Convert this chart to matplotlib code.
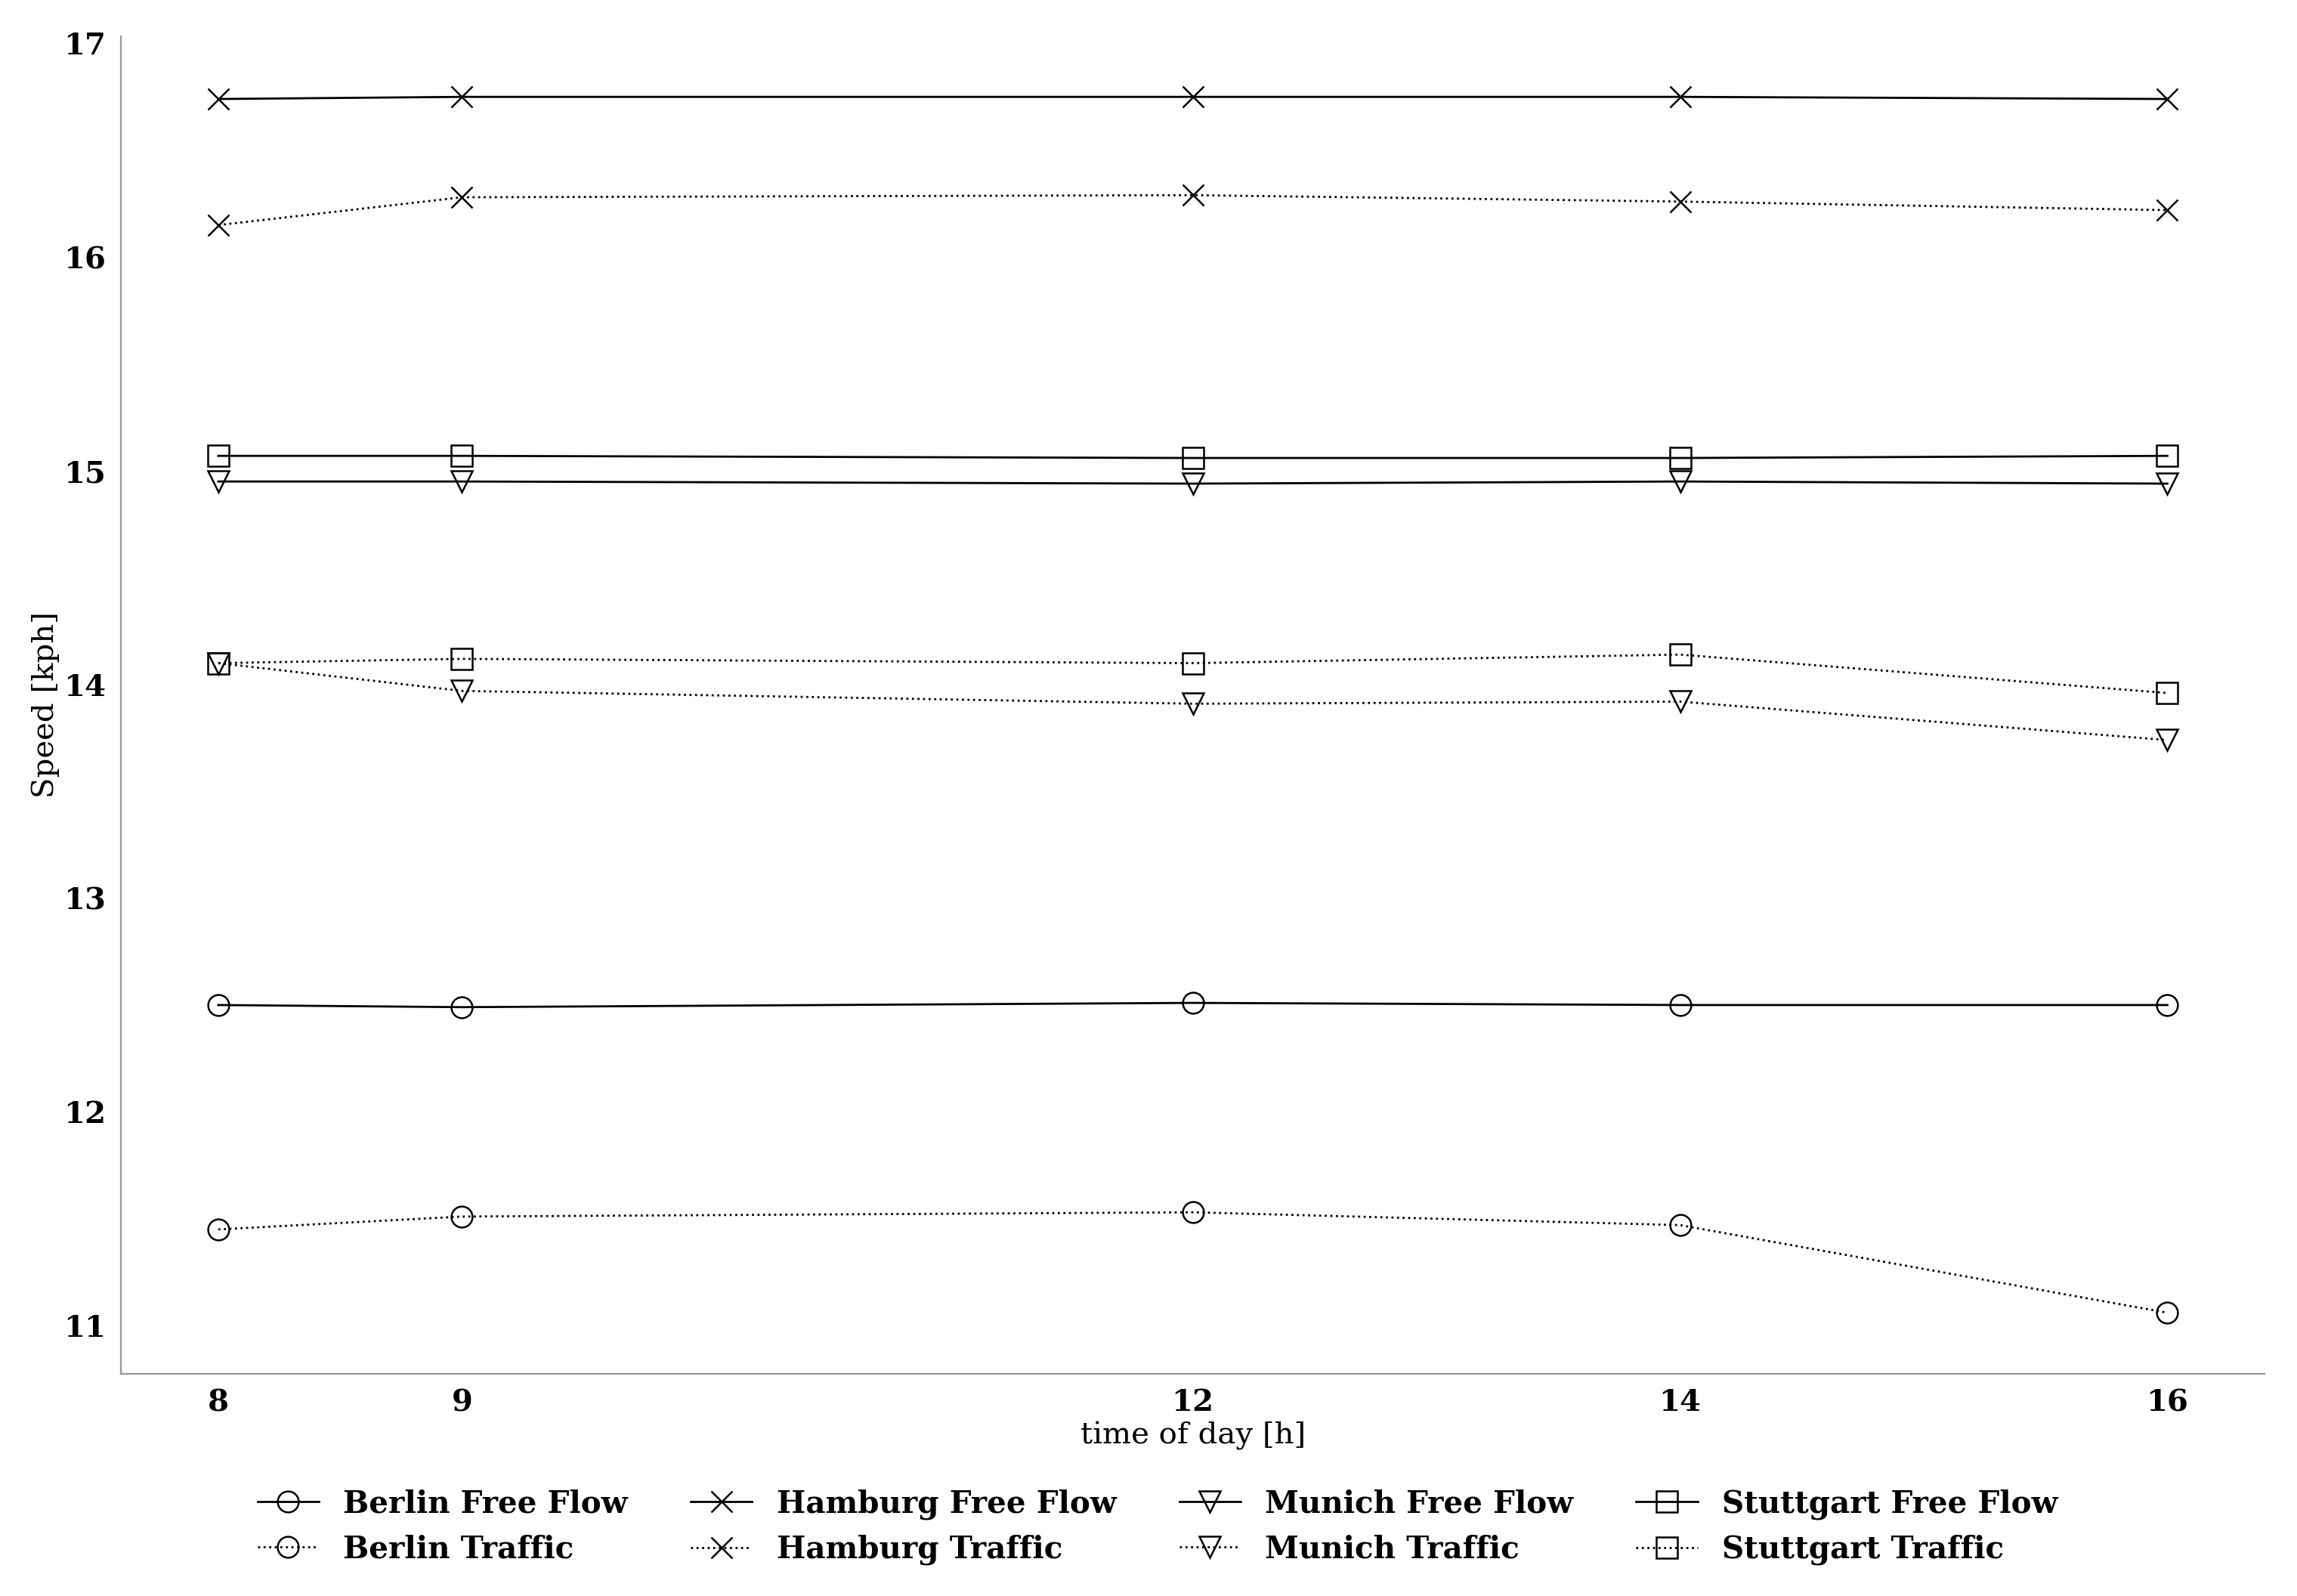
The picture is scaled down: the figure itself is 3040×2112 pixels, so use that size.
import matplotlib
matplotlib.use("Agg")
from matplotlib import pyplot as plt

plt.rcParams['font.family'] = 'DejaVu Serif'

hours = [8, 9, 12, 14, 16]

berlin_free = [12.50, 12.49, 12.51, 12.50, 12.50]
berlin_traffic = [11.45, 11.51, 11.53, 11.47, 11.06]
hamburg_free = [16.74, 16.75, 16.75, 16.75, 16.74]
hamburg_traffic = [16.15, 16.28, 16.29, 16.26, 16.22]
munich_free = [14.95, 14.95, 14.94, 14.95, 14.94]
munich_traffic = [14.10, 13.97, 13.91, 13.92, 13.74]
stuttgart_free = [15.07, 15.07, 15.06, 15.06, 15.07]
stuttgart_traffic = [14.10, 14.12, 14.10, 14.14, 13.96]

series = [
    ("Berlin Free Flow", berlin_free, 'o', '-'),
    ("Berlin Traffic", berlin_traffic, 'o', ':'),
    ("Hamburg Free Flow", hamburg_free, 'x', '-'),
    ("Hamburg Traffic", hamburg_traffic, 'x', ':'),
    ("Munich Free Flow", munich_free, 'v', '-'),
    ("Munich Traffic", munich_traffic, 'v', ':'),
    ("Stuttgart Free Flow", stuttgart_free, 's', '-'),
    ("Stuttgart Traffic", stuttgart_traffic, 's', ':'),
]

fig = plt.figure(figsize=(15.2, 10.56), dpi=200)
ax = fig.add_axes([0.0526, 0.1394, 0.9334, 0.838])

for label, vals, marker, ls in series:
    ax.plot(hours, vals, linestyle=ls, marker=marker, color='black',
            markerfacecolor='none', markeredgecolor='black',
            markersize=10, linewidth=1.0, markeredgewidth=0.9, label=label)

ax.set_xticks(hours)
ax.set_yticks([11, 12, 13, 14, 15, 16, 17])
ax.tick_params(length=0, labelsize=14.5, pad=7)
for t in ax.get_xticklabels() + ax.get_yticklabels():
    t.set_fontweight('bold')

ax.spines['top'].set_visible(False)
ax.spines['right'].set_visible(False)
ax.spines['left'].set_color('#999999')
ax.spines['bottom'].set_color('#999999')

ax.set_xlabel('time of day [h]', fontsize=14.5, labelpad=2)
ax.set_ylabel('Speed [kph]', fontsize=14.5, labelpad=2)

handles, labels = ax.get_legend_handles_labels()
fig.legend(handles, labels, loc='upper center', bbox_to_anchor=(0.504, 0.0845),
           ncol=4, frameon=False, prop={'weight': 'bold', 'size': 14.6},
           columnspacing=2.05, handletextpad=0.8, labelspacing=0.5)

fig.savefig('out.png', dpi=200)
